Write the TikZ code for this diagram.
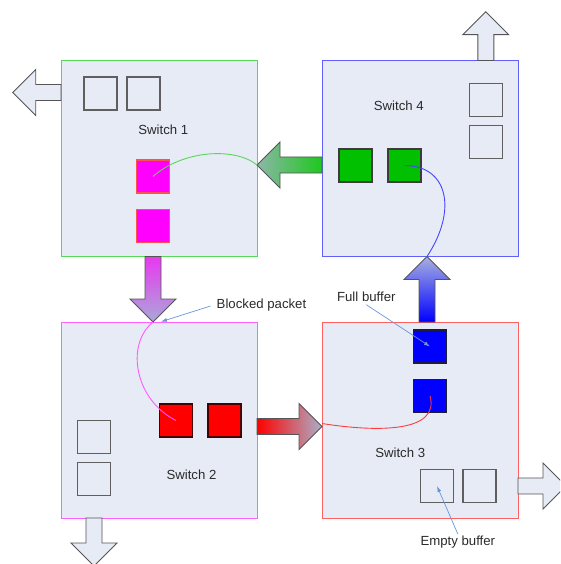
\documentclass[tikz,border=0pt]{standalone}
\usepackage{fontspec}
\setmainfont{Liberation Sans}
\usetikzlibrary{calc,arrows.meta}

\definecolor{boxfill}{HTML}{E6EBF5}
\definecolor{sw1}{HTML}{55D855}
\definecolor{sw2}{HTML}{FF60FF}
\definecolor{sw3}{HTML}{FF6060}
\definecolor{sw4}{HTML}{6060FF}
\definecolor{outline}{HTML}{555555}
\definecolor{emptyline}{HTML}{5F5F5F}
\definecolor{annot}{HTML}{6A96D6}
\definecolor{txt}{HTML}{2A2A2A}
\definecolor{pktmagenta}{HTML}{FF00FF}
\definecolor{pktgreen}{HTML}{00C000}
\definecolor{pktred}{HTML}{FF0000}
\definecolor{pktblue}{HTML}{0000FF}

% block arrow from #2 (base) to #3 (tip): shaft half width 8, head half width 23, head length 23
\newcommand{\blockarrow}[3][]{%
  \coordinate (ba-h) at ($(#3)!23pt!(#2)$);
  \draw[#1] ($(#2)!8pt!90:(#3)$)
    -- ($(ba-h)!8pt!-90:(#2)$)
    -- ($(ba-h)!23pt!-90:(#2)$)
    -- (#3)
    -- ($(ba-h)!23pt!90:(#2)$)
    -- ($(ba-h)!8pt!90:(#2)$)
    -- ($(#2)!8pt!-90:(#3)$) -- cycle;
}

\tikzset{
  switchbox/.style={draw=#1, fill=boxfill, line width=1pt, minimum size=196pt,
    inner sep=0pt, outer sep=0pt},
  buf/.style={minimum size=33pt, inner sep=0pt, outer sep=0pt, line width=1.1pt},
  emptybuf/.style={buf, draw=emptyline, fill=boxfill},
  label/.style={font=\fontsize{13.2}{15}\selectfont, text=txt, inner sep=0pt},
  exitarrow/.style={draw=outline, fill=boxfill, line width=0.9pt, line join=miter},
  flowarrow/.style={draw=outline, line width=0.9pt, line join=miter},
  route/.style={line width=0.9pt},
  note/.style={draw=annot, line width=0.7pt, -{Latex[length=6pt,width=4pt]}},
}

\begin{document}
\begin{tikzpicture}[x=1pt, y=-1pt]
  \useasboundingbox (0,0) rectangle (560,564);
  \clip (0,0) rectangle (560,564);

  % switches
  \node[switchbox=sw1] (s1) at (159,158.5) {};
  \node[switchbox=sw4] (s4) at (420,158.5) {};
  \node[switchbox=sw2] (s2) at (159,420) {};
  \node[switchbox=sw3] (s3) at (420,420) {};

  \node[label] (l1) at (163.3,130) {Switch 1};
  \node[label] (l4) at (398.8,106) {Switch 4};
  \node[label] (l2) at (191.5,475) {Switch 2};
  \node[label] (l3) at (400.2,452.3) {Switch 3};

  % buffers of switch 1
  \node[emptybuf] (e11) at (100.5,93.5) {};
  \node[emptybuf] (e12) at (143.5,93.5) {};
  \node[buf, fill=pktmagenta, draw={rgb,255:red,255;green,80;blue,80}] (m1) at (153,176.5) {};
  \node[buf, fill=pktmagenta, draw={rgb,255:red,255;green,80;blue,80}] (m2) at (153,226) {};

  % buffers of switch 4
  \node[buf, fill=pktgreen, draw={rgb,255:red,60;green,60;blue,60}] (g1) at (355.5,165.5) {};
  \node[buf, fill=pktgreen, draw={rgb,255:red,60;green,60;blue,60}] (g2) at (404.5,165.5) {};
  \node[emptybuf] (e41) at (486,100) {};
  \node[emptybuf] (e42) at (486,142) {};

  % buffers of switch 2
  \node[buf, fill=pktred, draw={rgb,255:red,70;green,0;blue,0}] (r1) at (176,420.5) {};
  \node[buf, fill=pktred, draw={rgb,255:red,70;green,0;blue,0}] (r2) at (224.5,420.5) {};
  \node[emptybuf] (e21) at (94,437) {};
  \node[emptybuf] (e22) at (94,479) {};

  % buffers of switch 3
  \node[buf, fill=pktblue, draw={rgb,255:red,30;green,30;blue,60}] (b1) at (430,346.5) {};
  \node[buf, fill=pktblue, draw={rgb,255:red,30;green,30;blue,60}] (b2) at (430,396) {};
  \node[emptybuf] (e31) at (437,486) {};
  \node[emptybuf] (e32) at (479.5,486) {};

  % outgoing ports
  \coordinate (x1) at (12.7,92.5);
  \coordinate (x4) at (485.8,11.7);
  \coordinate (x2) at (94,566);
  \coordinate (x3) at (566,486);
  \blockarrow[exitarrow]{s1.west |- x1}{x1}
  \blockarrow[exitarrow]{s4.north -| x4}{x4}
  \blockarrow[exitarrow]{s2.south -| x2}{x2}
  \blockarrow[exitarrow]{s3.east |- x3}{x3}

  % links between switches
  \coordinate (gfrom) at ($(s4.west)+(0,6.5)$);
  \coordinate (gtip)  at ($(s1.east)+(0,6.5)$);
  \coordinate (mfrom) at ($(s1.south)+(-6,0)$);
  \coordinate (mtip)  at ($(s2.north)+(-6,0)$);
  \coordinate (rfrom) at ($(s2.east)+(0,6.5)$);
  \coordinate (rtip)  at ($(s3.west)+(0,6.5)$);
  \coordinate (bfrom) at ($(s3.north)+(7,0)$);
  \coordinate (btip)  at ($(s4.south)+(7,0)$);
  \blockarrow[flowarrow, left color={rgb,255:red,140;green,182;blue,168}, right color={rgb,255:red,30;green,200;blue,30}]{gfrom}{gtip}
  \blockarrow[flowarrow, top color={rgb,255:red,232;green,56;blue,240}, bottom color={rgb,255:red,170;green,168;blue,216}]{mfrom}{mtip}
  \blockarrow[flowarrow, left color=pktred, right color={rgb,255:red,170;green,176;blue,200}]{rfrom}{rtip}
  \blockarrow[flowarrow, bottom color=pktblue, top color={rgb,255:red,168;green,176;blue,224}]{bfrom}{btip}

  % packet routes
  \draw[route, draw={rgb,255:red,90;green,215;blue,90}]
    (m1.center) .. controls +(30,-26.5) and +(-22,-18) .. (gtip);
  \draw[route, draw={rgb,255:red,70;green,70;blue,255}]
    (g2.center) .. controls +(43,0) and +(31,-47) .. (btip);
  \draw[route, draw={rgb,255:red,255;green,90;blue,255}]
    (mtip) .. controls +(-28,23) and +(-41,-20.5) .. (r1.center);
  \draw[route, draw={rgb,255:red,255;green,60;blue,60}]
    ($(rtip)+(0,-3)$) .. controls +(57,9) and +(10,36) .. (b2.center);

  % annotations
  \node[label] (blk) at (261.5,305) {Blocked packet};
  \node[label] (full) at (366.3,296.7) {Full buffer};
  \node[label] (empty) at (457.8,542.3) {Empty buffer};
  \coordinate (blkend) at (161,321.7);
  \draw[note] ($(blk.west)+(-6,1)$) -- (blkend);
  \draw[note] ($(full.south)+(0,3)$) -- (b1.center);
  \draw[note] ($(empty.north)+(0,-2)$) -- (e31.center);
\end{tikzpicture}
\end{document}
